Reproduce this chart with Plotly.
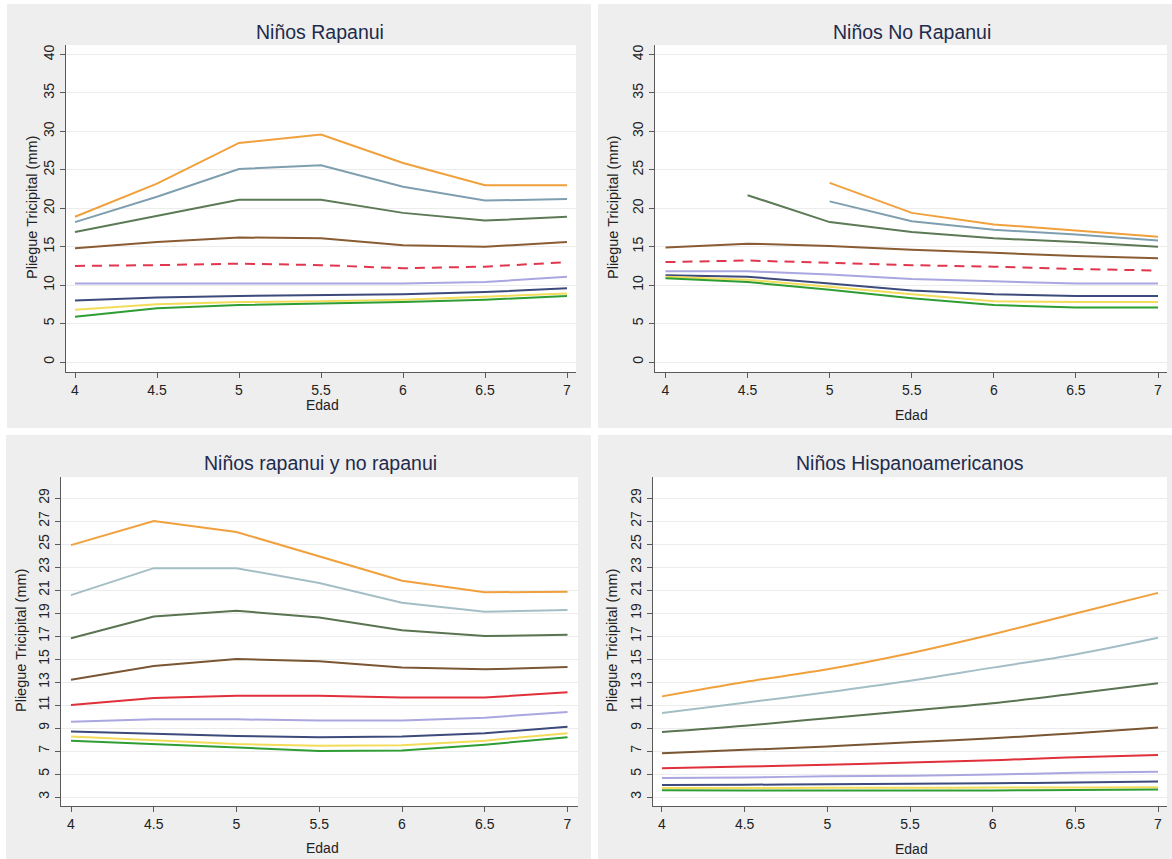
import plotly.graph_objects as go

# ---------------- data ----------------
ages = [4, 4.5, 5, 5.5, 6, 6.5, 7]
x_tick_vals = [4, 4.5, 5, 5.5, 6, 6.5, 7]
x_tick_text = ["4", "4.5", "5", "5.5", "6", "6.5", "7"]
y_ticks_top = [0, 5, 10, 15, 20, 25, 30, 35, 40]
y_ticks_bottom = [3, 5, 7, 9, 11, 13, 15, 17, 19, 21, 23, 25, 27, 29]

panel_titles = ["Niños Rapanui", "Niños No Rapanui",
                "Niños rapanui y no rapanui", "Niños Hispanoamericanos"]
x_title = "Edad"
y_title = "Pliegue Tricipital (mm)"

# Niños Rapanui
rap_p97 = [18.9, 23.2, 28.5, 29.6, 25.9, 23.0, 23.0]
rap_p95 = [18.2, 21.5, 25.1, 25.6, 22.8, 21.0, 21.2]
rap_p90 = [16.9, 19.0, 21.1, 21.1, 19.4, 18.4, 18.9]
rap_p75 = [14.8, 15.6, 16.2, 16.1, 15.2, 15.0, 15.6]
rap_p50 = [12.5, 12.6, 12.8, 12.6, 12.2, 12.4, 13.0]
rap_p25 = [10.2, 10.2, 10.2, 10.2, 10.2, 10.4, 11.1]
rap_p10 = [8.0, 8.4, 8.6, 8.7, 8.8, 9.1, 9.6]
rap_p5 = [6.8, 7.5, 7.8, 7.9, 8.1, 8.5, 8.9]
rap_p3 = [5.9, 7.0, 7.4, 7.6, 7.8, 8.1, 8.6]

# Niños No Rapanui
norap_p97 = [None, None, 23.3, 19.4, 17.9, 17.1, 16.3]
norap_p95 = [None, None, 20.9, 18.3, 17.2, 16.6, 15.8]
norap_p90 = [None, 21.7, 18.2, 16.9, 16.1, 15.6, 15.0]
norap_p75 = [14.9, 15.4, 15.1, 14.6, 14.2, 13.8, 13.5]
norap_p50 = [13.0, 13.2, 12.9, 12.6, 12.4, 12.1, 11.9]
norap_p25 = [11.8, 11.8, 11.4, 10.8, 10.5, 10.2, 10.2]
norap_p10 = [11.3, 11.1, 10.2, 9.3, 8.8, 8.6, 8.6]
norap_p5 = [11.1, 10.7, 9.8, 8.8, 7.9, 7.8, 7.8]
norap_p3 = [10.9, 10.4, 9.4, 8.3, 7.4, 7.1, 7.1]

# Niños rapanui y no rapanui
all_p97 = [24.9, 27.0, 26.05, 23.9, 21.8, 20.8, 20.85]
all_p95 = [20.55, 22.9, 22.9, 21.6, 19.9, 19.1, 19.25]
all_p90 = [16.8, 18.7, 19.2, 18.6, 17.5, 17.0, 17.1]
all_p75 = [13.2, 14.4, 15.0, 14.8, 14.25, 14.1, 14.3]
all_p50 = [11.0, 11.6, 11.8, 11.8, 11.65, 11.65, 12.1]
all_p25 = [9.55, 9.75, 9.75, 9.65, 9.65, 9.9, 10.4]
all_p10 = [8.7, 8.5, 8.3, 8.2, 8.25, 8.55, 9.1]
all_p5 = [8.25, 7.95, 7.6, 7.45, 7.5, 7.9, 8.55]
all_p3 = [7.9, 7.6, 7.25, 7.0, 7.05, 7.55, 8.2]

# Niños Hispanoamericanos
his_p97 = [11.75, 13.0, 14.1, 15.5, 17.15, 18.95, 20.75]
his_p95 = [10.3, 11.2, 12.1, 13.1, 14.25, 15.4, 16.85]
his_p90 = [8.65, 9.2, 9.85, 10.5, 11.15, 12.0, 12.9]
his_p75 = [6.8, 7.1, 7.4, 7.75, 8.1, 8.55, 9.05]
his_p50 = [5.5, 5.65, 5.8, 6.0, 6.2, 6.45, 6.65]
his_p25 = [4.65, 4.7, 4.8, 4.85, 4.95, 5.1, 5.2]
his_p10 = [4.05, 4.07, 4.1, 4.15, 4.2, 4.25, 4.35]
his_p5 = [3.78, 3.78, 3.8, 3.8, 3.82, 3.83, 3.85]
his_p3 = [3.58, 3.57, 3.56, 3.56, 3.57, 3.6, 3.65]

percentile_names = ["P97", "P95", "P90", "P75", "P50", "P25", "P10", "P5", "P3"]

# ---------------- styles ----------------
W, H = 1172, 859
colors_top = ["#f0a03c", "#7f9fb0", "#5c7a56", "#8a5c34", "#e0374e",
              "#a9a6e2", "#3c4a7c", "#f2dc5a", "#2e9e34"]
colors_bottom = ["#f0a03c", "#a4bec6", "#5a7452", "#7a5634", "#e0303a",
                 "#aaa6e0", "#3c4a7c", "#f2dc5a", "#2e9e34"]

panels = [
    dict(series=[rap_p97, rap_p95, rap_p90, rap_p75, rap_p50, rap_p25, rap_p10, rap_p5, rap_p3],
         colors=colors_top, dashed_median=True, shape="linear",
         xdom=(66, 576), ydom=(45, 372), xr=(3.9451, 7.0549), yr=(-1.30, 41.24),
         yticks=y_ticks_top, bg=(7, 4, 591, 428),
         title_xy=(320, 32), ytitle_xy=(32, 208), xtitle_xy=(322, 405)),
    dict(series=[norap_p97, norap_p95, norap_p90, norap_p75, norap_p50, norap_p25, norap_p10, norap_p5, norap_p3],
         colors=colors_top, dashed_median=True, shape="linear",
         xdom=(655, 1167), ydom=(45, 372), xr=(3.936, 7.0548), yr=(-1.30, 41.24),
         yticks=y_ticks_top, bg=(598, 4, 1172, 428),
         title_xy=(912, 32), ytitle_xy=(613, 208), xtitle_xy=(911, 415)),
    dict(series=[all_p97, all_p95, all_p90, all_p75, all_p50, all_p25, all_p10, all_p5, all_p3],
         colors=colors_bottom, dashed_median=False, shape="linear",
         xdom=(61, 578), ydom=(477, 806), xr=(3.9396, 7.0634), yr=(2.217, 30.826),
         yticks=y_ticks_bottom, bg=(6, 435, 591, 859),
         title_xy=(320, 463), ytitle_xy=(21, 641), xtitle_xy=(322, 848)),
    dict(series=[his_p97, his_p95, his_p90, his_p75, his_p50, his_p25, his_p10, his_p5, his_p3],
         colors=colors_bottom, dashed_median=False, shape="spline",
         xdom=(653, 1167), ydom=(477, 806), xr=(3.9456, 7.0544), yr=(2.217, 30.826),
         yticks=y_ticks_bottom, bg=(598, 435, 1172, 859),
         title_xy=(910, 463), ytitle_xy=(612, 641), xtitle_xy=(911, 849)),
]

FONT = "Liberation Sans, Arial, sans-serif"
TEXT_COLOR = "#222222"
TITLE_COLOR = "#1e2b4c"
AXIS_COLOR = "#5a5a5a"
GRID_COLOR = "#ececec"
PANEL_BG = "#eeeeee"


def px(x):
    return x / W


def py(y):
    return 1 - y / H


fig = go.Figure()
shapes = []
annotations = []
layout_axes = {}

for i, p in enumerate(panels):
    n = i + 1
    xa = "x" if n == 1 else f"x{n}"
    ya = "y" if n == 1 else f"y{n}"
    for k, (vals, col) in enumerate(zip(p["series"], p["colors"])):
        dash = "10px,7px" if (k == 4 and p["dashed_median"]) else "solid"
        fig.add_trace(go.Scatter(
            x=ages, y=vals, mode="lines", name=percentile_names[k],
            line=dict(color=col, width=2, dash=dash, shape=p["shape"]),
            xaxis=xa, yaxis=ya, showlegend=False, connectgaps=False,
            hoverinfo="skip"))

    x0, y0, x1, y1 = p["bg"]
    shapes.append(dict(type="rect", xref="paper", yref="paper", layer="below",
                       x0=px(x0), x1=px(x1), y0=py(y1), y1=py(y0),
                       fillcolor=PANEL_BG, line=dict(width=0)))
    shapes.append(dict(type="rect", xref="paper", yref="paper", layer="below",
                       x0=px(p["xdom"][0]), x1=px(p["xdom"][1]),
                       y0=py(p["ydom"][1]), y1=py(p["ydom"][0]),
                       fillcolor="white", line=dict(width=0)))

    xkey = "xaxis" if n == 1 else f"xaxis{n}"
    ykey = "yaxis" if n == 1 else f"yaxis{n}"
    layout_axes[xkey] = dict(
        domain=[px(p["xdom"][0]), px(p["xdom"][1])], range=list(p["xr"]),
        anchor=ya, tickmode="array", tickvals=x_tick_vals, ticktext=x_tick_text,
        showgrid=False, zeroline=False, showline=True, linecolor=AXIS_COLOR,
        linewidth=1, ticks="outside", ticklen=5, tickcolor=AXIS_COLOR,
        tickfont=dict(family=FONT, size=14, color=TEXT_COLOR), fixedrange=True)
    layout_axes[ykey] = dict(
        domain=[py(p["ydom"][1]), py(p["ydom"][0])], range=list(p["yr"]),
        anchor=xa, tickmode="array", tickvals=p["yticks"],
        ticktext=[str(v) for v in p["yticks"]], tickangle=-90,
        showgrid=True, gridcolor=GRID_COLOR, gridwidth=1, zeroline=False,
        showline=True, linecolor=AXIS_COLOR, linewidth=1, ticks="outside",
        ticklen=5, tickcolor=AXIS_COLOR,
        tickfont=dict(family=FONT, size=14, color=TEXT_COLOR), fixedrange=True)

    tx, ty = p["title_xy"]
    annotations.append(dict(text=panel_titles[i], x=px(tx), y=py(ty),
                            xref="paper", yref="paper", showarrow=False,
                            xanchor="center", yanchor="middle",
                            font=dict(family=FONT, size=19.5, color=TITLE_COLOR)))
    yx, yy = p["ytitle_xy"]
    annotations.append(dict(text=y_title, x=px(yx), y=py(yy), textangle=-90,
                            xref="paper", yref="paper", showarrow=False,
                            xanchor="center", yanchor="middle",
                            font=dict(family=FONT, size=14.5, color=TEXT_COLOR)))
    ex, ey = p["xtitle_xy"]
    annotations.append(dict(text=x_title, x=px(ex), y=py(ey),
                            xref="paper", yref="paper", showarrow=False,
                            xanchor="center", yanchor="middle",
                            font=dict(family=FONT, size=14, color=TEXT_COLOR)))

fig.update_layout(
    width=W, height=H, margin=dict(l=0, r=0, t=0, b=0),
    paper_bgcolor="white", plot_bgcolor="rgba(0,0,0,0)",
    shapes=shapes, annotations=annotations, showlegend=False,
    **layout_axes)

fig.write_html("out.html", config={"displayModeBar": False})
